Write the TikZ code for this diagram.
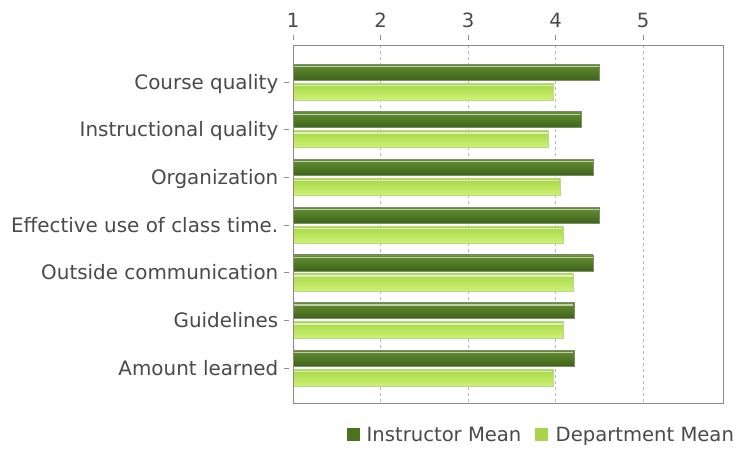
\documentclass[tikz,border=0pt]{standalone}
\usepackage{fontspec}
\setmainfont{DejaVu Sans}
\begin{document}
\begin{tikzpicture}[x=1pt,y=-1pt,
  lbl/.style={font=\fontsize{19.6}{22}\selectfont, text=txtgray, inner sep=0pt},
  catlbl/.style={lbl, font=\fontsize{19.9}{22}\selectfont},
  grid/.style={draw=gridgray, line width=0.8pt, dash pattern=on 3pt off 3pt},
  tickmark/.style={draw=tickgray, line width=1pt},
  instrbar/.style={top color=instrtop, bottom color=instrbot, draw=instroutline, line width=0.6pt},
  deptbar/.style={top color=depttop, bottom color=deptbot, draw=deptoutline, line width=0.6pt},
  stripe/.style={fill=white, opacity=0.6}
]
\definecolor{txtgray}{HTML}{4A4A4A}
\definecolor{gridgray}{HTML}{B8B8B8}
\definecolor{tickgray}{HTML}{909090}
\definecolor{boxgray}{HTML}{8A8A8A}
\definecolor{instrtop}{HTML}{668F34}
\definecolor{instrbot}{HTML}{3E6418}
\definecolor{instroutline}{HTML}{7F8C70}
\definecolor{depttop}{HTML}{A6D646}
\definecolor{deptbot}{HTML}{CDF274}
\definecolor{deptoutline}{HTML}{B8D890}
\definecolor{instrleg}{HTML}{4A7420}
\definecolor{deptleg}{HTML}{A8D64A}
\useasboundingbox (0,0) rectangle (737,448);
\fill[white] (0,0) rectangle (737,448);
% grid lines
\foreach \v in {2,3,4,5} {
  \draw[grid] ({293+(\v-1)*87.5},45) -- ({293+(\v-1)*87.5},403);
}
% top ticks and labels
\foreach \v in {1,2,3,4,5} {
  \draw[tickmark] ({293+(\v-1)*87.5},35) -- ({293+(\v-1)*87.5},40);
  \node[lbl, anchor=base] (t\v) at ({293+(\v-1)*87.5},27) {\v};
}
% bars
\foreach \i/\name/\a/\b in {0/Course quality/4.50/3.98,
                             1/Instructional quality/4.29/3.92,
                             2/Organization/4.43/4.05,
                             3/Effective use of class time./4.50/4.085,
                             4/Outside communication/4.43/4.20,
                             5/Guidelines/4.21/4.09,
                             6/Amount learned/4.21/3.97} {
  \pgfmathsetmacro{\c}{82+47.7*\i}
  \pgfmathsetmacro{\xa}{293+(\a-1)*87.5}
  \pgfmathsetmacro{\xb}{293+(\b-1)*87.5}
  \path[instrbar] (293,\c-18) rectangle (\xa,\c-2);
  \fill[stripe] (293.5,\c-16.2) rectangle (\xa-0.5,\c-15);
  \path[deptbar] (293,\c+1) rectangle (\xb,\c+18);
  \fill[stripe] (293.5,\c+2.5) rectangle (\xb-0.5,\c+4);
  \draw[tickmark] (284,\c) -- (288.5,\c);
  \node[catlbl, anchor=base east] (c\i) at (278.5,\c+7) {\name};
}
% plot box
\draw[boxgray, line width=1pt] (293,45) rectangle (723,403);
% legend
\fill[instrleg] (347,428) rectangle (360,441);
\node[lbl, anchor=base west] (leg1) at (366.5,441.5) {Instructor Mean};
\fill[deptleg] (535,428) rectangle (548,441);
\node[lbl, anchor=base west] (leg2) at (555.5,441.5) {Department Mean};
\end{tikzpicture}
\end{document}
